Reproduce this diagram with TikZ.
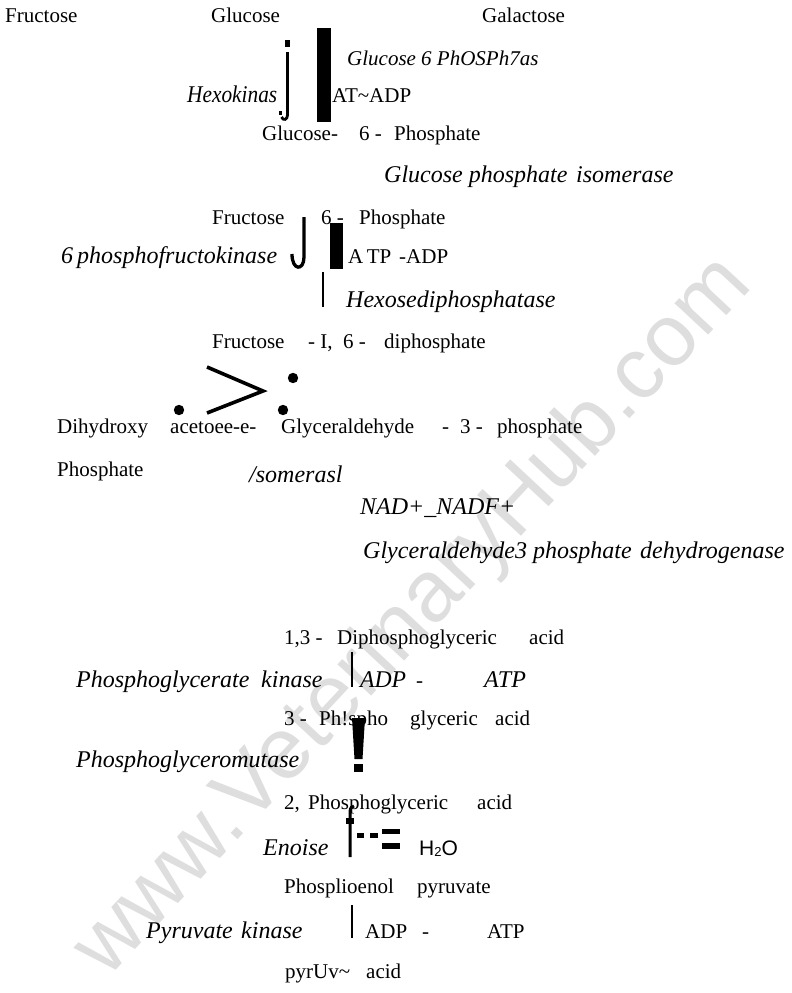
\documentclass[tikz,border=0pt]{standalone}
\usepackage{fontspec}
\usepackage{graphicx}
\setmainfont{Liberation Serif}
\newfontfamily\wsans{Liberation Sans}
\newcommand\fitw[2]{\resizebox{#1pt}{\height}{#2}}
\begin{document}
\begin{tikzpicture}[x=1pt,y=-1pt,
  up/.style={anchor=base west, inner sep=0pt, font=\fontsize{21}{21}\selectfont},
  it/.style={anchor=base west, inner sep=0pt, font=\fontsize{24}{24}\selectfont\itshape},
  sit/.style={anchor=base west, inner sep=0pt, font=\fontsize{#1}{#1}\selectfont\itshape},
  sn/.style={anchor=base west, inner sep=0pt, font=\wsans\fontsize{21}{21}\selectfont},
  blk/.style={fill=black, draw=none},
  bar/.style={draw=black, line width=#1},
  wm/.style={text=black!13, font=\wsans\fontsize{87}{87}\selectfont, inner sep=0pt}]
\path[use as bounding box, fill=white] (0,0) rectangle (792,993);
% watermark
\node[wm, rotate=47] (wmark) at (414,618) {www.VeterinaryHub.com};
% row 1
\node[up] (fru) at (5,22) {Fructose};
\node[up] (glu) at (211,22) {Glucose};
\node[up] (gal) at (482,22) {Galactose};
% hexokinase step
\fill[blk] (285,40) rectangle (290,47);
\draw[line width=2.8pt] (287.5,52) -- (287.5,115) .. controls (287.5,120) and (283,121) .. (281.5,117);
\fill[blk] (279,111) rectangle (281.5,115);
\fill[blk] (317,28) rectangle (331,122);
\node[sit=21] (g6a) at (347,65) {Glucose};
\node[sit=21] (g6b) at (421,65) {6 PhOSPh7as};
\node[it] (hexo) at (187,102) {\fitw{90}{Hexokinas}};
\node[up] (atadp) at (332,102) {AT\textasciitilde ADP};
\node[up] (g6p1) at (262,140) {Glucose-};
\node[up] (g6p2) at (359,140) {6 -};
\node[up] (g6p3) at (394,140) {Phosphate};
\node[it] (gpi1) at (384,182) {Glucose phosphate};
\node[it] (gpi2) at (576,182) {isomerase};
% fructose 6 phosphate
\node[up] (f6p1) at (212,224) {Fructose};
\node[up] (f6p2) at (321,224) {6 -};
\node[up] (f6p3) at (359,224) {Phosphate};
\draw[line width=3.3pt] (304,217) -- (304,257) .. controls (304,271) and (292,271) .. (292,254);
\fill[blk] (330,223) rectangle (343,269);
\node[it] (pfk) at (61,263) {6\,phosphofructokinase};
\node[up] (atp1) at (348,263) {A\,TP};
\node[up] (adp1) at (399,263) {-ADP};
\draw[bar=2pt] (322.5,272) -- (322.5,307);
\node[it] (hdp) at (346,307) {Hexosediphosphatase};
% fructose 1,6 diphosphate
\node[up] (fdp1) at (212,348) {Fructose};
\node[up] (fdp2) at (308,348) {- I,};
\node[up] (fdp3) at (343,348) {6 -};
\node[up] (fdp4) at (384,348) {diphosphate};
\draw[line width=3.6pt, line join=miter] (207,367) -- (263,391) -- (207,413);
\fill (293,378) circle (5.2);
\fill (179,410) circle (5.2);
\fill (283,410) circle (5.2);
\node[up] (dha1) at (57,433) {Dihydroxy};
\node[up] (dha2) at (170,433) {acetoee-e-};
\node[up] (gap1) at (281,433) {Glyceraldehyde};
\node[up] (gap2) at (442,433) {-};
\node[up] (gap3) at (460,433) {3 -};
\node[up] (gap4) at (497,433) {phosphate};
\node[up] (dha3) at (57,476) {Phosphate};
\node[it] (iso) at (249,482) {/somerasl};
\node[it] (nad) at (360,514) {NAD+\_NADF+};
\node[it] (gapdh1) at (363,558) {Glyceraldehyde3 phosphate};
\node[it] (gapdh2) at (640,558) {dehydrogenase};
% 1,3 DPG
\node[up] (dpg1) at (284,644) {1,3 -};
\node[up] (dpg2) at (337,644) {Diphosphoglyceric};
\node[up] (dpg3) at (529,644) {acid};
\draw[bar=2.6pt] (352,652) -- (352,687);
\node[it] (pgk1) at (76,687) {Phosphoglycerate};
\node[it] (pgk2) at (261,687) {kinase};
\node[it] (adp2) at (360,687) {\fitw{46}{ADP}};
\node[up] (dash2) at (416,687) {-};
\node[it] (atp2) at (484,687) {ATP};
% 3PG
\node[up] (tpg1) at (284,725) {3 -};
\node[up] (tpg2) at (319,725) {Ph!spho};
\node[up] (tpg3) at (410,725) {glyceric};
\node[up] (tpg4) at (495,725) {acid};
\fill[blk] (352,718) -- (365,718) -- (362.5,759) -- (354.5,759) -- cycle;
\fill[blk] (353.5,764) rectangle (363,772);
\node[it] (pgm) at (76,767) {Phosphoglyceromutase};
% 2PG
\node[up] (dpg4) at (284,809) {2,};
\node[up] (dpg5) at (308,809) {Phosphoglyceric};
\node[up] (dpg6) at (477,809) {acid};
\draw[line width=3pt] (350,857) -- (350,812) .. controls (350,808) and (352,806) .. (354,806);
\fill[blk] (345.5,818) rectangle (353.5,824);
\fill[blk] (357,832.5) rectangle (364,838);
\fill[blk] (369.5,832.5) rectangle (377.5,838);
\fill[blk] (382,828.5) rectangle (400,834);
\fill[blk] (382,843) rectangle (400,848.5);
\node[it] (eno) at (263,855) {Enoise};
\node[sn] (water) at (419,855) {H\raisebox{-0.1ex}{\fontsize{13}{13}\selectfont 2}O};
% PEP
\node[up] (pep1) at (284,893) {Phosplioenol};
\node[up] (pep2) at (417,893) {pyruvate};
\draw[bar=2.2pt] (352,905) -- (352,938);
\node[it] (pk1) at (146,938) {Pyruvate};
\node[it] (pk2) at (241,938) {kinase};
\node[up] (adp3) at (365,938) {ADP};
\node[up] (dash3) at (422,938) {-};
\node[up] (atp3) at (487,938) {ATP};
\node[up] (pyr1) at (285,978) {pyrUv\textasciitilde};
\node[up] (pyr2) at (366,978) {acid};
\end{tikzpicture}
\end{document}
